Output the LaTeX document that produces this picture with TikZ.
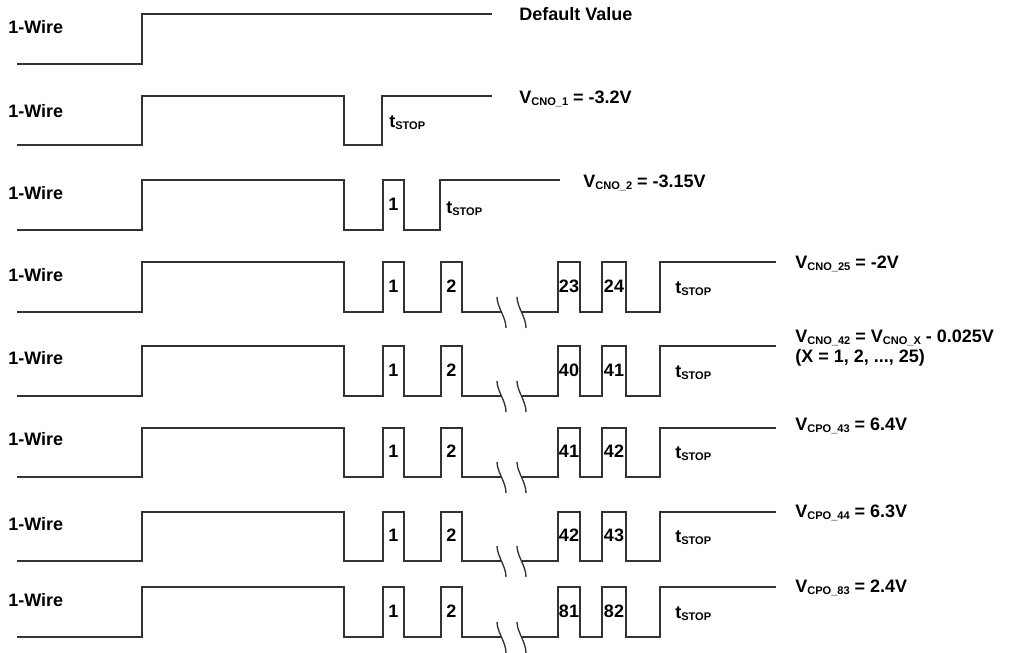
\documentclass[tikz,border=0pt]{standalone}
\usepackage{fontspec}
\setmainfont{Liberation Sans}
\newcommand\lsub[1]{\raisebox{-1.7pt}{\fontsize{8.3}{9}\selectfont #1}}
\newcommand\tstop{t\lsub{STOP}}
\begin{document}
\begin{tikzpicture}[x=0.75pt,y=-0.75pt,
  wave/.style={line width=1pt, draw=black!80, line join=miter},
  lbl/.style={font=\fontsize{13.5}{15}\selectfont\bfseries, inner sep=0pt, text=black}]
\useasboundingbox (0,0) rectangle (1015,653);

% Row 1
\node[lbl,anchor=base west] (w1) at (8,33.5) {1-Wire};
\draw[wave] (17,64) -| (142,14) -- (492,14);
\node[lbl,anchor=base west] (v1) at (519,20.7) {Default Value};

% Row 2
\node[lbl,anchor=base west] (w2) at (8,117.3) {1-Wire};
\draw[wave] (17,145) -| (142,96) -| (344,145) -| (382,96) -- (492,96);
\node[lbl,anchor=west] (ts2) at (389,122.5) {\tstop};
\node[lbl,anchor=base west] (v2) at (519,103.3) {V\lsub{CNO\_1} = -3.2V};

% Row 3
\node[lbl,anchor=base west] (w3) at (8,199.4) {1-Wire};
\draw[wave] (17,230) -| (142,180) -| (344,230) -| (383,180) -| (404,230) -| (440,180) -- (560,180);
\node[lbl] (a3) at (393.5,204) {1};
\node[lbl,anchor=west] (ts3) at (446,208.5) {\tstop};
\node[lbl,anchor=base west] (v3) at (583,187) {V\lsub{CNO\_2} = -3.15V};

% Rows 4-8
\foreach \hi/\lo/\wy/\a/\b/\vy/\r [count=\i from 4] in {
  262/312/281.7/23/24/268/{V\lsub{CNO\_25} = -2V},
  346/396/364/40/41/342.5/{V\lsub{CNO\_42} = V\lsub{CNO\_X} - 0.025V},
  428/477/445.7/41/42/430/{V\lsub{CPO\_43} = 6.4V},
  512/561/530/42/43/517/{V\lsub{CPO\_44} = 6.3V},
  587/637/606/81/82/592/{V\lsub{CPO\_83} = 2.4V}}
{
  \node[lbl,anchor=base west] (w\i) at (8,\wy) {1-Wire};
  \draw[wave] (17,\lo) -| (142,\hi) -| (344,\lo) -| (383,\hi) -| (404,\lo)
     -| (441,\hi) -| (462,\lo) -- (501.5,\lo);
  \draw[wave] (521.5,\lo) -| (558,\hi) -| (580,\lo) -| (602,\hi) -| (626,\lo)
     -| (660,\hi) -- (776,\hi);
  \draw[wave] (497,{\lo-15}) .. controls (497,{\lo-5}) and (506,{\lo+5}) .. (506,{\lo+16});
  \draw[wave] (517,{\lo-15}) .. controls (517,{\lo-5}) and (526,{\lo+5}) .. (526,{\lo+16});
  \node[lbl] (p1\i) at (393.5,{(\hi+\lo)/2-1}) {1};
  \node[lbl] (p2\i) at (451.5,{(\hi+\lo)/2-1}) {2};
  \node[lbl] (p3\i) at (569,{(\hi+\lo)/2-1}) {\a};
  \node[lbl] (p4\i) at (614,{(\hi+\lo)/2-1}) {\b};
  \node[lbl,anchor=west] (ts\i) at (675,{(\hi+\lo)/2+1.5}) {\tstop};
  \node[lbl,anchor=base west] (v\i) at (795,\vy) {\r};
}
\node[lbl,anchor=base west] (v5b) at (795,362) {(X = 1, 2, ..., 25)};
\end{tikzpicture}
\end{document}
